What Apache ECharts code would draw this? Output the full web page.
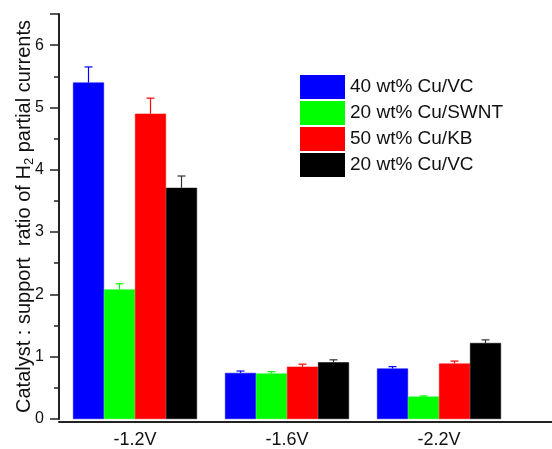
<!DOCTYPE html>
<html>
<head>
<meta charset="utf-8">
<script src="https://cdn.jsdelivr.net/npm/echarts@6/dist/echarts.min.js"></script>
<style>
  html, body { margin: 0; padding: 0; background: #fff; }
  #chart { width: 552px; height: 449px; }
</style>
</head>
<body>
<div id="chart"></div>
<script>
// Potentials
const categories = ['-1.2V', '-1.6V', '-2.2V'];
const seriesNames = ['40 wt% Cu/VC', '20 wt% Cu/SWNT', '50 wt% Cu/KB', '20 wt% Cu/VC'];
const seriesColors = ['#0000ff', '#00ff00', '#ff0000', '#000000'];

// Ratio of H2 partial currents per catalyst
const cuVC40   = [5.40, 0.74, 0.81];
const cuSWNT20 = [2.08, 0.73, 0.36];
const cuKB50   = [4.90, 0.84, 0.89];
const cuVC20   = [3.71, 0.91, 1.22];

// Upper error bar lengths
const errVC40   = [0.25, 0.03, 0.03];
const errSWNT20 = [0.09, 0.03, 0.01];
const errKB50   = [0.25, 0.04, 0.04];
const errVC20   = [0.19, 0.04, 0.05];

const values = [cuVC40, cuSWNT20, cuKB50, cuVC20];
const errors = [errVC40, errSWNT20, errKB50, errVC20];

const BAR_W = 31;
const FONT = 'Liberation Sans, Arial, sans-serif';

const chart = echarts.init(document.getElementById('chart'), null, { renderer: 'canvas' });

const series = [];
values.forEach((vals, i) => {
  series.push({
    name: seriesNames[i],
    type: 'bar',
    data: vals,
    barWidth: BAR_W,
    barGap: '0%',
    itemStyle: { color: seriesColors[i], borderColor: seriesColors[i], borderWidth: 0.5, opacity: 1 },
    emphasis: { disabled: true },
    z: 2
  });
});
values.forEach((vals, i) => {
  series.push({
    name: seriesNames[i],
    type: 'custom',
    data: vals.map((v, k) => [k, v, v + errors[i][k]]),
    encode: { x: 0, y: [1, 2] },
    z: 3,
    silent: true,
    renderItem: function (params, api) {
      const base = api.coord([api.value(0), api.value(1)]);
      const top = api.coord([api.value(0), api.value(2)]);
      const x = base[0] + (i - 1.5) * BAR_W;
      const stroke = { stroke: seriesColors[i] === '#000000' ? '#333' : seriesColors[i], lineWidth: 1.2 };
      return {
        type: 'group',
        children: [
          { type: 'line', shape: { x1: x, y1: base[1], x2: x, y2: top[1] }, style: stroke },
          { type: 'line', shape: { x1: x - 4, y1: top[1], x2: x + 4, y2: top[1] }, style: stroke }
        ]
      };
    }
  });
});

chart.setOption({
  animation: false,
  backgroundColor: '#fff',
  grid: [
    { left: 59, right: 37, top: 14, bottom: 27, containLabel: false },
    // frame-wide grid that carries the long baseline
    { left: 59, right: 0, top: 14, bottom: 27, containLabel: false }
  ],
  legend: {
    data: seriesNames.map((n, i) => ({ name: n, itemStyle: { color: seriesColors[i] } })),
    orient: 'vertical',
    left: 300,
    top: 75,
    itemWidth: 43,
    itemHeight: 22,
    itemGap: 2,
    padding: 0,
    selectedMode: false,
    icon: 'rect',
    textStyle: { fontFamily: FONT, fontSize: 19, color: '#111', padding: [0, 0, 0, 1] }
  },
  xAxis: [
    {
      type: 'category',
      gridIndex: 0,
      data: categories,
      axisLine: { show: false },
      axisTick: { show: false },
      axisLabel: { fontFamily: FONT, fontSize: 18, color: '#111', margin: 12 }
    },
    {
      type: 'value',
      gridIndex: 1,
      min: 0, max: 1,
      axisLine: { show: true, lineStyle: { color: '#222', width: 2 } },
      axisTick: { show: false },
      axisLabel: { show: false },
      splitLine: { show: false }
    }
  ],
  yAxis: [
    {
      type: 'value',
      gridIndex: 0,
      min: 0,
      max: 6.5,
      interval: 1,
      splitLine: { show: false },
      axisLine: { show: true, lineStyle: { color: '#222', width: 2 } },
      axisTick: { show: true, length: 9, lineStyle: { color: '#222', width: 1.5 } },
      minorTick: { show: true, splitNumber: 2, length: 5, lineStyle: { color: '#222', width: 1.5 } },
      axisLabel: {
        fontFamily: FONT, fontSize: 16, color: '#111', margin: 15,
        formatter: v => (v % 1 === 0 ? String(v) : '')
      },
      name: '{t|Catalyst : support  ratio of H}{s|2}{t| partial currents}',
      nameLocation: 'middle',
      nameGap: 23,
      nameMoveOverlap: false,
      nameRotate: 90,
      nameTextStyle: {
        fontFamily: FONT,
        rich: {
          t: { fontFamily: FONT, fontSize: 20, color: '#111' },
          s: { fontFamily: FONT, fontSize: 13, color: '#111', padding: [10, 0, 0, 0] }
        }
      }
    },
    {
      type: 'value',
      gridIndex: 1,
      min: 0, max: 1,
      show: false
    }
  ],
  series: series
});
</script>
</body>
</html>
